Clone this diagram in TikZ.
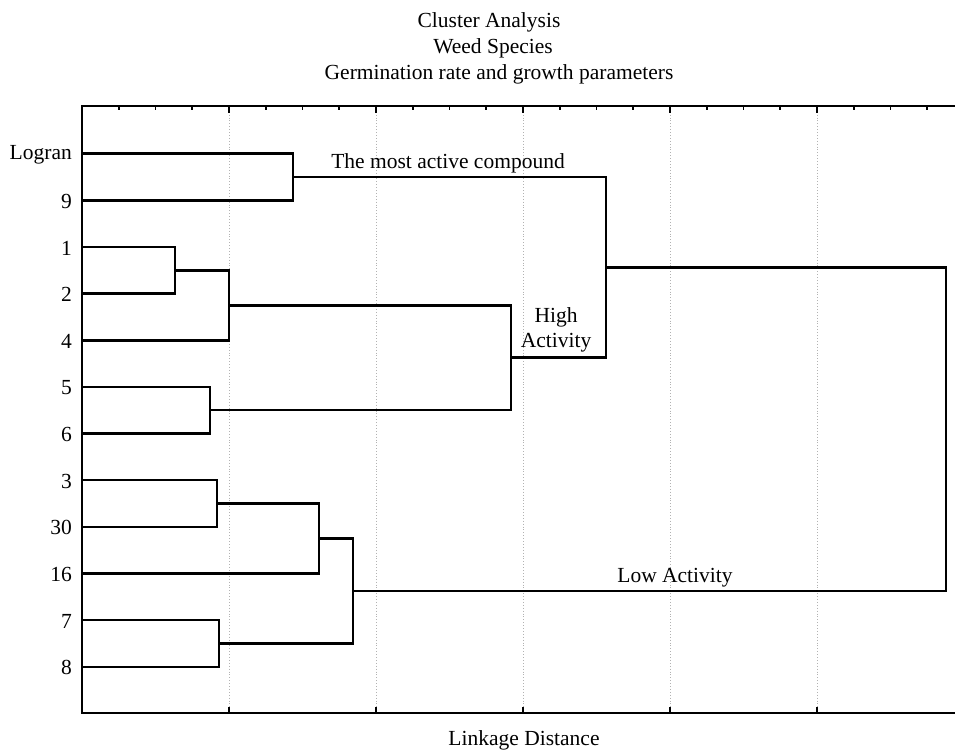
\documentclass[tikz,border=0pt]{standalone}
\usepackage{fontspec}
\setmainfont{Liberation Serif}
\usetikzlibrary{calc}
\tikzstyle{plotArea} = [x = 1pt, y = -1pt]
\tikzstyle{treeLine} = [color=black, line width=2.5pt]
\tikzstyle{axisLine} = [color=black, line width=2.8pt]
\tikzstyle{gridLine} = [color=gray!60, dotted, line width=0.9pt]
\tikzstyle{tickLine} = [color=black, line width=1.8pt]
\tikzstyle{plotText} = [font=\fontsize{21.5}{25}\selectfont, inner sep=0pt]
\tikzstyle{leafText} = [plotText, anchor=east]
\newcommand{\axisLeft}{82}
\newcommand{\axisTop}{106}
\newcommand{\axisBottom}{713}
\newcommand{\leafGap}{46.65}
\newcommand{\joinPair}[4]{
  \path let \p1 = ($(#3)!0.5!(#4)$) in coordinate (#1) at (#2pt, \y1);
  \draw [treeLine] (#3) -| (#1) |- (#4);
}
\begin{document}
\begin{tikzpicture}[plotArea]
  \useasboundingbox (0,0) rectangle (955,751);
  % title
  \node [plotText] (title1) at (489,22) {Cluster Analysis};
  \node [plotText] (title2) at (493,48) {Weed Species};
  \node [plotText] (title3) at (499,74) {Germination rate and growth parameters};
  \node [plotText] (xlabel) at (524,740) {Linkage Distance};

  % grid and ticks
  \foreach \k in {1,...,5} {
    \pgfmathsetmacro{\gx}{\axisLeft + 147 * \k}
    \draw [gridLine] (\gx, \axisTop) -- (\gx, \axisBottom);
    \draw [tickLine] (\gx, \axisTop) -- + (0, 7);
    \draw [tickLine] (\gx, \axisBottom) -- + (0, -6);
  }
  \foreach \k in {1,...,23} {
    \pgfmathsetmacro{\tx}{\axisLeft + 36.75 * \k}
    \draw [tickLine] (\tx, \axisTop) -- + (0, 4);
  }
  \draw [axisLine] (955, \axisTop) -- (\axisLeft, \axisTop) -- (\axisLeft, \axisBottom) -- (955, \axisBottom);

  % leaves
  \foreach \name [count=\i] in {Logran,9,1,2,4,5,6,3,30,16,7,8} {
    \pgfmathsetmacro{\ly}{\axisTop + 1 + \leafGap * \i}
    \node [leafText] (leaf\i) at (72, \ly + 1) {\name};
    \coordinate (p\i) at (\axisLeft, \ly);
  }

  % clusters
  \joinPair{mA}{293}{p1}{p2}
  \joinPair{mB}{175}{p3}{p4}
  \joinPair{mC}{229}{mB}{p5}
  \joinPair{mD}{210}{p6}{p7}
  \joinPair{mE}{511}{mC}{mD}
  \joinPair{mF}{606}{mA}{mE}
  \joinPair{mG}{217}{p8}{p9}
  \joinPair{mH}{319}{mG}{p10}
  \joinPair{mI}{219}{p11}{p12}
  \joinPair{mJ}{353}{mH}{mI}
  \joinPair{mK}{946}{mF}{mJ}

  % group labels
  \node [plotText] (mostActive) at (448,163) {The most active compound};
  \node [plotText, align=center] (highActive) at (556,330) {High\\Activity};
  \node [plotText] (lowActive) at (675,578) {Low Activity};
\end{tikzpicture}
\end{document}
